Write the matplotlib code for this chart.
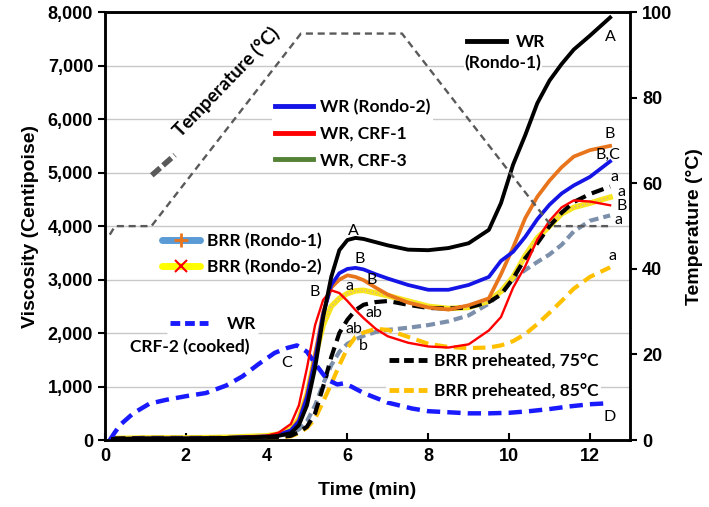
#RVA pasting curves: viscosity vs time with temperature profile on a second axis

#imports
import matplotlib
matplotlib.use("Agg")
import matplotlib.pyplot as plt
from matplotlib.lines import Line2D
from matplotlib.ticker import FuncFormatter

#data (time in min, viscosity in cP)
time = [0.2, 1, 2, 3, 4, 4.3, 4.6, 4.8, 5.0, 5.2, 5.4, 5.6, 5.8, 6.0, 6.2, 6.4,
        6.7, 7.0, 7.5, 8.0, 8.5, 9.0, 9.5, 9.8, 10.1, 10.4, 10.7, 11.0, 11.3, 11.6, 12.0, 12.5]

wr_rondo1 = [20, 30, 30, 40, 60, 80, 130, 280, 650, 1350, 2300, 3050, 3550, 3740, 3780, 3760,
             3700, 3640, 3560, 3550, 3590, 3680, 3930, 4430, 5150, 5700, 6300, 6720, 7030, 7300, 7560, 7900]
wr_rondo2 = [20, 30, 30, 40, 70, 100, 180, 350, 800, 1500, 2350, 2900, 3120, 3200, 3220, 3190,
             3100, 3020, 2900, 2810, 2810, 2900, 3050, 3350, 3520, 3800, 4130, 4400, 4610, 4760, 4920, 5210]
wr_crf1 = [20, 30, 30, 40, 80, 140, 300, 650, 1350, 2150, 2620, 2800, 2750, 2600, 2430, 2280,
           2080, 1940, 1820, 1750, 1730, 1790, 2050, 2300, 2850, 3250, 3750, 4100, 4350, 4480, 4460, 4390]
wr_crf3 = [20, 30, 30, 40, 70, 100, 180, 380, 850, 1600, 2400, 2850, 3000, 3080, 3050, 2990,
           2850, 2720, 2570, 2480, 2440, 2520, 2650, 3100, 3600, 4150, 4550, 4850, 5100, 5300, 5420, 5500]
brr_rondo1 = [30, 40, 40, 40, 60, 80, 120, 200, 350, 650, 1050, 1400, 1650, 1800, 1880, 1950,
              2020, 2060, 2100, 2150, 2220, 2330, 2550, 2750, 3000, 3180, 3330, 3470, 3650, 3900, 4100, 4200]
brr_rondo2 = [30, 40, 40, 50, 80, 110, 200, 400, 850, 1550, 2150, 2500, 2650, 2740, 2790, 2800,
              2750, 2700, 2600, 2500, 2460, 2480, 2600, 2780, 3050, 3450, 3780, 4000, 4230, 4350, 4430, 4540]
brr_75 = [30, 40, 40, 40, 50, 60, 80, 150, 250, 500, 1000, 1550, 2000, 2250, 2430, 2530,
          2580, 2600, 2530, 2470, 2460, 2480, 2580, 2720, 3020, 3400, 3680, 4000, 4250, 4450, 4600, 4740]
brr_85 = [30, 30, 30, 30, 40, 50, 70, 130, 230, 400, 720, 1050, 1400, 1720, 1930, 2010,
          2080, 2060, 1930, 1800, 1740, 1720, 1730, 1770, 1850, 1980, 2170, 2380, 2600, 2830, 3050, 3230]

crf2_time = [0.12, 0.25, 0.4, 0.7, 1.1, 1.5, 2.0, 2.5, 3.0, 3.4, 3.8, 4.2, 4.5, 4.75, 5.0, 5.25,
             5.5, 5.75, 5.9, 6.1, 6.4, 7.0, 7.6, 8.0, 9.0, 9.5, 10.0, 10.5, 11.0, 11.5, 12.0, 12.5]
wr_crf2 = [0, 150, 300, 500, 680, 750, 820, 880, 1020, 1190, 1420, 1630, 1720, 1770, 1650, 1380,
           1130, 1040, 1060, 1000, 880, 700, 590, 540, 500, 500, 510, 540, 580, 630, 670, 690]

temp_time = [0.12, 0.25, 1.15, 4.85, 7.35, 11.05, 12.45]
temp = [48, 50, 50, 95, 95, 50, 50]

#colors
c_black = '#000000'
c_blue = '#1414e6'
c_red = '#ff0000'
c_orange = '#e8741c'
c_green = '#548235'
c_steel = '#7d90ab'
c_yellow = '#f7e51e'
c_gold = '#ffc000'
c_dblue = '#1a1aff'
c_gray = '#5a5a5a'

plt.rcParams['font.family'] = ['Liberation Sans', 'DejaVu Sans']
lfont = {'family': 'Lato', 'weight': 'bold', 'size': 12.5}

fig = plt.figure(figsize=(7.09, 5.07), dpi=100)
ax = fig.add_axes([0.148, 0.132, 0.741, 0.844])
ax2 = ax.twinx()

#viscosity curves
kw = dict(solid_joinstyle='round', dash_joinstyle='round')
ax.plot(time, brr_rondo1, color=c_steel, lw=3, ls=(0, (2.2, 1.2)), zorder=3, **kw)
ax.plot(time, brr_rondo2, color=c_yellow, lw=4, zorder=3, **kw)
ax.plot(time, brr_rondo2, color='#d9a9a9', lw=1.2, ls=(0, (0.6, 1.6)), zorder=3, **kw)
ax.plot(time, brr_85, color=c_gold, lw=3, ls=(0, (3, 1.6)), zorder=4, **kw)
ax.plot(time, brr_75, color=c_black, lw=3, ls=(0, (3, 1.6)), zorder=4, **kw)
ax.plot(time, wr_crf3, color=c_orange, lw=2.7, zorder=5, **kw)
ax.plot(time, wr_rondo2, color=c_blue, lw=2.7, zorder=5, **kw)
ax.plot(time, wr_crf1, color=c_red, lw=1.7, zorder=6, **kw)
ax.plot(time, wr_rondo1, color=c_black, lw=2.8, zorder=6, **kw)
ax.plot(crf2_time, wr_crf2, color=c_dblue, lw=3.2, ls=(0, (3, 1.6)), zorder=5, **kw)

#temperature profile
ax2.plot(temp_time, temp, color=c_gray, lw=1.7, ls=(0, (3, 2)), zorder=2)

#axes setup
ax.set_xlim(0, 13)
ax.set_ylim(0, 8000)
ax2.set_ylim(0, 100)
ax.set_xticks([0, 2, 4, 6, 8, 10, 12])
ax.set_yticks(range(0, 8001, 1000))
ax2.set_yticks(range(0, 101, 20))
ax.yaxis.set_major_formatter(FuncFormatter(lambda v, p: f'{v:,.0f}'))
ax.grid(axis='y', color='#c8c8c8', lw=1)
ax.set_axisbelow(True)

for a in (ax, ax2):
    for s in a.spines.values():
        s.set_linewidth(1.8)
        s.set_color('black')
ax.tick_params(axis='x', direction='in', length=5, width=1.5, labelsize=13, pad=6)
ax.tick_params(axis='y', direction='out', length=5, width=1.5, labelsize=13)
ax2.tick_params(axis='y', direction='out', length=5, width=1.5, labelsize=13)
for lab in ax.get_xticklabels() + ax.get_yticklabels() + ax2.get_yticklabels():
    lab.set_fontweight('bold')

ax.set_xlabel('Time (min)', fontsize=14, fontweight='bold', labelpad=12)
ax.set_ylabel('Viscosity (Centipoise)', fontsize=14, fontweight='bold', labelpad=6)
ax2.set_ylabel('Temperature (°C)', fontsize=14, fontweight='bold', labelpad=10)

#letter labels
letters = [(6.15, 3900, 'A'), (6.3, 3390, 'B'), (5.2, 2760, 'B'), (6.6, 3000, 'B'), (6.05, 2880, 'a'),
           (6.65, 2370, 'ab'), (6.15, 2080, 'ab'), (6.4, 1750, 'b'), (4.5, 1450, 'C'),
           (12.5, 7540, 'A'), (12.5, 5720, 'B'), (12.45, 5330, 'B,C'), (12.6, 4920, 'a'),
           (12.78, 4640, 'a'), (12.78, 4370, 'B'), (12.72, 4110, 'a'), (12.55, 3440, 'a'), (12.5, 430, 'D')]
for lx, ly, s in letters:
    ax.text(lx, ly, s, fontsize=11.5, family='Lato', ha='center', va='center', zorder=8)

#temperature tag on the ramp
ax.text(3.0, 6700, 'Temperature (°C)', fontdict=dict(lfont, size=13.5), rotation=46,
        ha='center', va='center', zorder=8)
ax.add_artist(Line2D([1.16, 1.73], [4950, 5330], color=c_gray, lw=4, ls=(0, (2, 0.7)), zorder=8))

#legends
def add_leg(handles, labels, anchor, spacing=0.45, textpad=0.4):
    leg = ax2.legend(handles, labels, loc='upper left', bbox_to_anchor=anchor, prop=lfont,
                     frameon=True, framealpha=1, facecolor='white', edgecolor='none',
                     handlelength=2.2, handletextpad=textpad, labelspacing=spacing,
                     borderpad=0.15, borderaxespad=0)
    leg.set_zorder(10)
    ax2.add_artist(leg)
    return leg

add_leg([Line2D([], [], color=c_black, lw=3.5)], ['WR'], (0.685, 0.955), textpad=0.6)
add_leg([Line2D([], [], color=c_blue, lw=3.5), Line2D([], [], color=c_red, lw=3.5),
         Line2D([], [], color=c_green, lw=3.5)],
        ['WR (Rondo-2)', 'WR, CRF-1', 'WR, CRF-3'], (0.318, 0.803), spacing=0.6)
add_leg([Line2D([], [], color='#5b9bd5', lw=5, solid_capstyle='round', marker='+', ms=10, mew=2, mec=c_orange),
         Line2D([], [], color='#ffff00', lw=5, solid_capstyle='round', marker='x', ms=8, mew=1.5, mec=c_red)],
        ['BRR (Rondo-1)', 'BRR (Rondo-2)'], (0.103, 0.49), spacing=0.55)
add_leg([Line2D([], [], color=c_dblue, lw=3.5, ls=(0, (2, 1)))], ['WR'], (0.118, 0.295), textpad=1.1)
add_leg([Line2D([], [], color=c_black, lw=3.5, ls=(0, (2, 1))), Line2D([], [], color=c_gold, lw=3.5, ls=(0, (2, 1)))],
        ['BRR preheated, 75°C', 'BRR preheated, 85°C'], (0.535, 0.21), spacing=0.8)

ax2.text(0.758, 0.881, '(Rondo-1)', transform=ax2.transAxes, fontdict=lfont, ha='center', va='center',
         bbox=dict(facecolor='white', edgecolor='none', pad=0.5), zorder=11)
ax2.text(0.162, 0.217, 'CRF-2 (cooked)', transform=ax2.transAxes, fontdict=lfont, ha='center', va='center',
         bbox=dict(facecolor='white', edgecolor='none', pad=0.5), zorder=11)

fig.savefig('out.png', dpi=100)
